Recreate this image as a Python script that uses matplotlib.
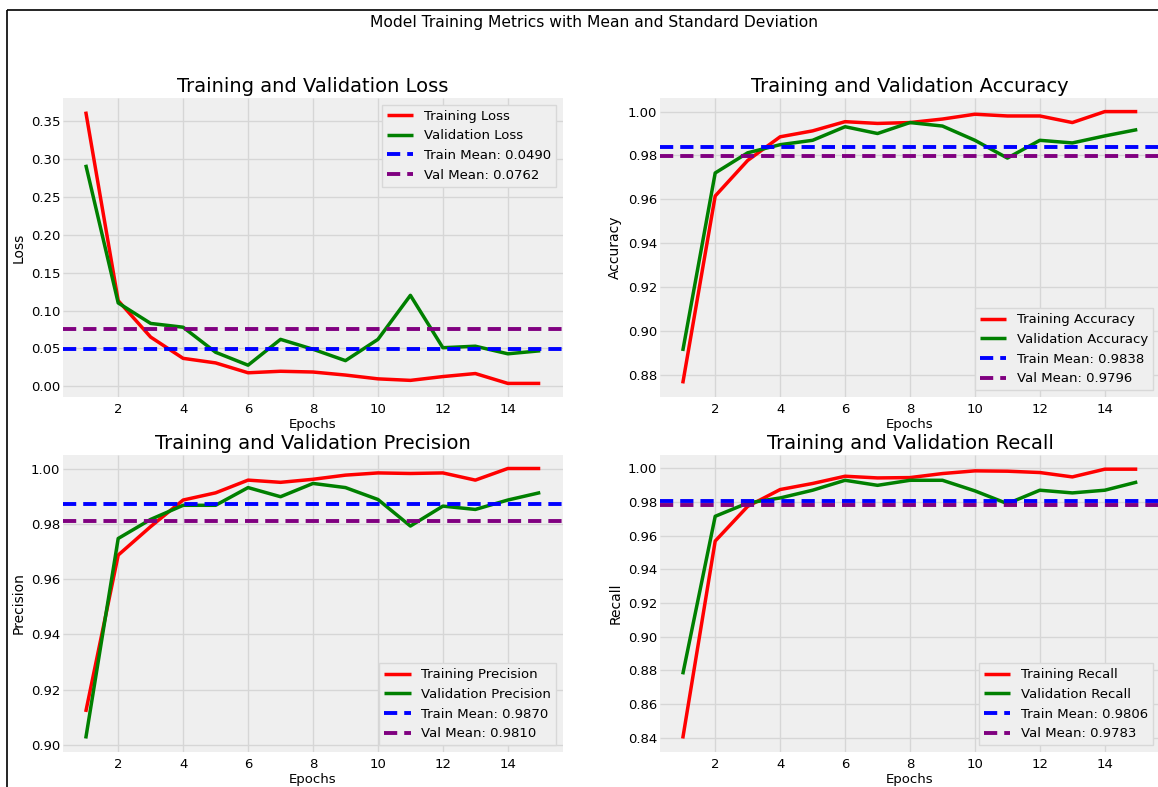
import numpy as np
import matplotlib
matplotlib.use("Agg")
import matplotlib.pyplot as plt
from matplotlib.lines import Line2D

plt.style.use('fivethirtyeight')

epochs = np.arange(1, 16)

train_loss = [0.362, 0.113, 0.065, 0.037, 0.031, 0.018, 0.020, 0.019, 0.015, 0.010,
              0.008, 0.013, 0.017, 0.004, 0.004]
val_loss = [0.292, 0.110, 0.083, 0.078, 0.045, 0.028, 0.062, 0.049, 0.034, 0.062,
            0.120, 0.051, 0.053, 0.043, 0.047]

train_acc = [0.876, 0.9615, 0.9777, 0.9885, 0.9912, 0.9954, 0.9946, 0.995, 0.9966, 0.9988,
             0.998, 0.998, 0.995, 1.000, 1.000]
val_acc = [0.8908, 0.972, 0.9812, 0.9849, 0.9869, 0.9931, 0.990, 0.995, 0.9934, 0.9869,
           0.9788, 0.9869, 0.9857, 0.9889, 0.9918]

train_prec = [0.912, 0.9687, 0.979, 0.9886, 0.9912, 0.9958, 0.995, 0.9961, 0.9976, 0.9984,
              0.9982, 0.9984, 0.9958, 1.000, 1.000]
val_prec = [0.9024, 0.9747, 0.9816, 0.9867, 0.9867, 0.9931, 0.9898, 0.9946, 0.9931, 0.9888,
            0.9792, 0.9864, 0.9852, 0.9886, 0.9913]

train_rec = [0.8396, 0.9569, 0.9775, 0.9875, 0.9911, 0.9954, 0.9944, 0.9946, 0.997, 0.9986,
             0.9984, 0.9976, 0.995, 0.9996, 0.9996]
val_rec = [0.8777, 0.9716, 0.9795, 0.9825, 0.9871, 0.993, 0.990, 0.993, 0.993, 0.9867,
           0.9791, 0.9871, 0.9855, 0.9871, 0.992]

metric_names = ['Loss', 'Accuracy', 'Precision', 'Recall']
train_means = [0.0490, 0.9838, 0.9870, 0.9806]
val_means = [0.0762, 0.9796, 0.9810, 0.9783]
legend_locs = ['upper right', 'lower right', 'lower right', 'lower right']
train_series = [train_loss, train_acc, train_prec, train_rec]
val_series = [val_loss, val_acc, val_prec, val_rec]

W, H = 1158, 787
fig = plt.figure(figsize=(W / 100, H / 100), dpi=100, facecolor='white')

# axes boxes in pixels: (left, top, right, bottom)
boxes = [(63, 98, 563, 397), (660, 98, 1160, 397),
         (63, 455, 563, 752), (660, 455, 1160, 752)]

for i, name in enumerate(metric_names):
    l, t, r, b = boxes[i]
    ax = fig.add_axes([l / W, 1 - b / H, (r - l) / W, (b - t) / H])
    ax.set_facecolor('#efefef')
    for s in ax.spines.values():
        s.set_visible(False)
    ax.grid(True, color='#d6d6d6', linewidth=1)
    ax.set_axisbelow(True)

    ax.plot(epochs, train_series[i], color='red', lw=2.5, label=f'Training {name}')
    ax.plot(epochs, val_series[i], color='green', lw=2.5, label=f'Validation {name}')
    ax.axhline(train_means[i], color='blue', lw=2.8, ls='--', dashes=(3.4, 1.8),
               label=f'Train Mean: {train_means[i]:.4f}')
    ax.axhline(val_means[i], color='purple', lw=2.8, ls='--', dashes=(3.4, 1.8),
               label=f'Val Mean: {val_means[i]:.4f}')

    ax.set_title(f'Training and Validation {name}', fontsize=14, pad=4)
    ax.set_xlabel('Epochs', fontsize=9.5, labelpad=2)
    ax.set_ylabel(name, fontsize=10, labelpad=4)
    ax.set_xticks([2, 4, 6, 8, 10, 12, 14])
    ax.tick_params(axis='both', labelsize=9.5, length=0)
    ax.tick_params(axis='x', pad=4)
    ax.tick_params(axis='y', pad=2)
    ax.yaxis.set_major_formatter(plt.FormatStrFormatter('%.2f'))
    if name == 'Loss':
        ax.set_yticks([0.0, 0.05, 0.10, 0.15, 0.20, 0.25, 0.30, 0.35])
    else:
        ax.set_yticks(np.arange(0.84, 1.001, 0.02))
        lo = min(min(train_series[i]), min(val_series[i]))
        hi = 1.0
        pad = (hi - lo) * 0.05
        ax.set_ylim(lo - pad, hi + pad)

    leg = ax.legend(loc=legend_locs[i], fontsize=9.5, fancybox=False,
                    facecolor='#efefef', edgecolor='#d8d8d8', framealpha=1)
    leg.get_frame().set_linewidth(1)

fig.suptitle('Model Training Metrics with Mean and Standard Deviation',
             fontsize=11.2, x=594 / W, y=1 - 22 / H, va='center')

# frame around the sheet
fig.add_artist(Line2D([7 / W, 7 / W], [0, 1 - 10 / H], color='black', lw=1.2,
                      transform=fig.transFigure))
fig.add_artist(Line2D([7 / W, 1], [1 - 10 / H, 1 - 10 / H], color='black', lw=1.2,
                      transform=fig.transFigure))

fig.savefig('out.png', dpi=100, facecolor='white')
